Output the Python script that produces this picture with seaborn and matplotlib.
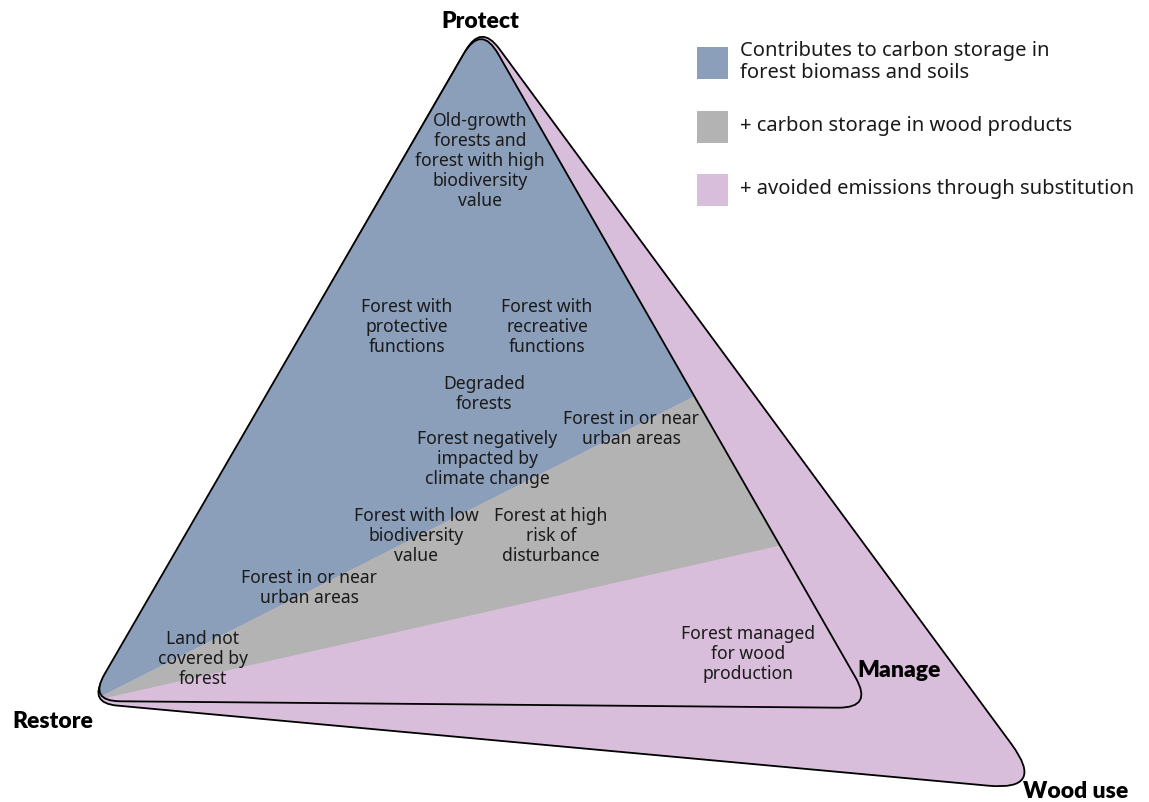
"""
Forest strategy triangle: protect / restore / manage / wood use.
Drawn in pixel coordinates on a full-figure axes.
"""

import numpy as np
import matplotlib
matplotlib.use("Agg")
import matplotlib.pyplot as plt
from matplotlib.path import Path
from matplotlib.patches import PathPatch, Polygon, Rectangle
import seaborn as sns

# --- diagram data (pixel coordinates, y downwards) ---
outer_vertices = [(481, 25), (89, 704), (1046, 792)]
outer_radii = [20, 18, 26]
inner_vertices = [(481, 25), (89, 702), (873, 709)]
inner_radii = [20, 18, 20]

split_origin = (92, 702)
blue_grey_end = (693, 398)
grey_pink_end = (778, 547)

colors = {"blue": "#8c9fba", "grey": "#b3b3b3", "pink": "#d9bedb"}

corner_labels = ["Protect", "Restore", "Manage", "Wood use"]
corner_pos = [(480, 21), (53, 722), (899, 671), (1076, 792)]

region_labels = [
    "Old-growth\nforests and\nforest with high\nbiodiversity\nvalue",
    "Forest with\nprotective\nfunctions",
    "Forest with\nrecreative\nfunctions",
    "Degraded\nforests",
    "Forest in or near\nurban areas",
    "Forest negatively\nimpacted by\nclimate change",
    "Forest with low\nbiodiversity\nvalue",
    "Forest at high\nrisk of\ndisturbance",
    "Forest in or near\nurban areas",
    "Land not\ncovered by\nforest",
    "Forest managed\nfor wood\nproduction",
]
region_pos = [(480, 161), (407, 327), (547, 327), (484, 394), (631, 429),
              (487, 459), (416, 536), (551, 536), (309, 588), (203, 659),
              (748, 654)]

legend_labels = ["Contributes to carbon storage in\nforest biomass and soils",
                 "+ carbon storage in wood products",
                 "+ avoided emissions through substitution"]
legend_colors = ["blue", "grey", "pink"]
legend_y = [64, 128, 191]


def rounded_path(vertices, radii):
    """Closed polygon path with rounded corners (quadratic bezier)."""
    pts = np.array(vertices, dtype=float)
    n = len(pts)
    verts, codes = [], []
    for i in range(n):
        p = pts[i]
        prev_p = pts[i - 1]
        next_p = pts[(i + 1) % n]
        u1 = (prev_p - p) / np.linalg.norm(prev_p - p)
        u2 = (next_p - p) / np.linalg.norm(next_p - p)
        ang = np.arccos(np.clip(np.dot(u1, u2), -1, 1))
        d = radii[i] / np.tan(ang / 2)
        a = p + u1 * d
        b = p + u2 * d
        verts.append(a)
        codes.append(Path.MOVETO if i == 0 else Path.LINETO)
        verts += [p, b]
        codes += [Path.CURVE3, Path.CURVE3]
    verts.append(verts[0])
    codes.append(Path.CLOSEPOLY)
    return Path(verts, codes)


def line_y(p0, p1, x):
    return p0[1] + (p1[1] - p0[1]) / (p1[0] - p0[0]) * (x - p0[0])


sns.set_theme(style="white")
plt.rcParams["font.family"] = ["Noto Sans", "DejaVu Sans"]

fig = plt.figure(figsize=(11.49, 8.03), dpi=100)
ax = fig.add_axes([0, 0, 1, 1])
ax.set_xlim(0, 1149)
ax.set_ylim(803, 0)
ax.axis("off")

# outer triangle (wood use)
outer = PathPatch(rounded_path(outer_vertices, outer_radii), facecolor=colors["pink"],
                  edgecolor="black", lw=1.3, zorder=1)
ax.add_patch(outer)

# inner triangle (manage)
inner_path = rounded_path(inner_vertices, inner_radii)
inner_fill = PathPatch(inner_path, facecolor=colors["pink"], edgecolor="none", zorder=2)
ax.add_patch(inner_fill)

x_left, x_right = -200, 1400
blue_poly = Polygon([(x_left, line_y(split_origin, blue_grey_end, x_left)),
                     (x_right, line_y(split_origin, blue_grey_end, x_right)),
                     (x_right, -200), (x_left, -200)],
                    facecolor=colors["blue"], edgecolor="none", zorder=3)
grey_poly = Polygon([(x_left, line_y(split_origin, grey_pink_end, x_left)),
                     (x_right, line_y(split_origin, grey_pink_end, x_right)),
                     (x_right, line_y(split_origin, blue_grey_end, x_right)),
                     (x_left, line_y(split_origin, blue_grey_end, x_left))],
                    facecolor=colors["grey"], edgecolor="none", zorder=3)
for poly in (blue_poly, grey_poly):
    ax.add_patch(poly)
    poly.set_clip_path(inner_fill)

inner_edge = PathPatch(inner_path, facecolor="none", edgecolor="black", lw=1.3, zorder=4)
ax.add_patch(inner_edge)

# texts
for label, (x, y) in zip(region_labels, region_pos):
    ax.text(x, y, label, ha="center", va="center", fontsize=12.6,
            color="#1a1a1a", linespacing=1.15, zorder=5)

for label, (x, y) in zip(corner_labels, corner_pos):
    ax.text(x, y, label, ha="center", va="center", fontsize=16.5,
            fontweight="heavy", family=["Lato", "DejaVu Sans"],
            color="black", zorder=5)

# legend
for label, c, y in zip(legend_labels, legend_colors, legend_y):
    ax.add_patch(Rectangle((697, y - 16), 31, 32, facecolor=colors[c],
                           edgecolor="none", zorder=5))
    ax.text(740, y - 2, label, ha="left", va="center", fontsize=14.5,
            color="#1a1a1a", linespacing=1.1, zorder=5)

plt.savefig("out.png", dpi=100)
plt.close()
